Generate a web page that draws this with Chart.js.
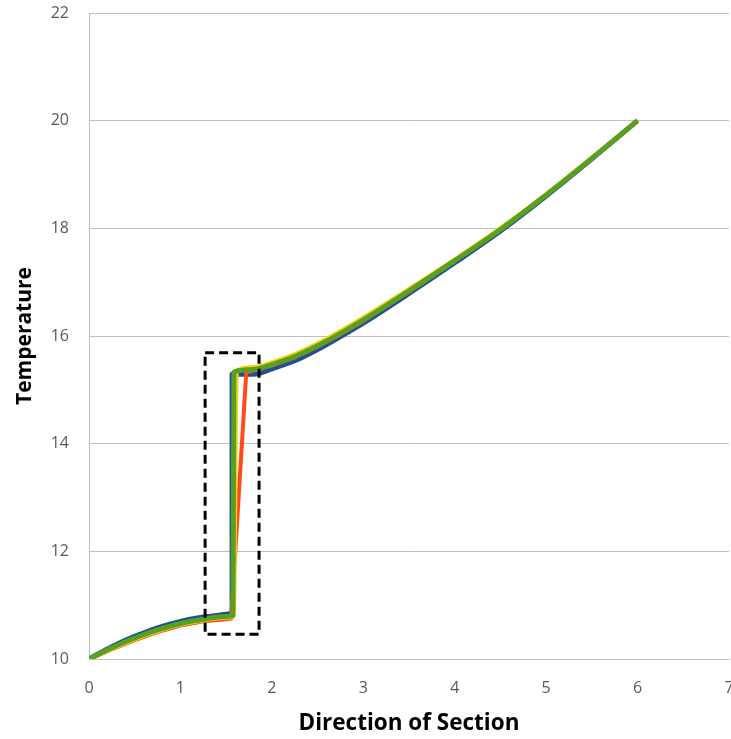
<!DOCTYPE html>
<html>
<head>
<meta charset="utf-8">
<script src="https://cdn.jsdelivr.net/npm/chart.js@4/dist/chart.umd.min.js"></script>
<style>
  html, body { margin: 0; padding: 0; background: #fff; overflow: hidden; }
  #wrap { width: 733px; height: 739px; }
</style>
</head>
<body>
<div id="wrap"><canvas id="c"></canvas></div>
<script>
// Position along the section and the temperature for each run
const xBlue   = [0, 0.25, 0.5, 0.75, 1.0, 1.25, 1.5, 1.565, 1.565, 1.8, 2.0, 2.25, 2.5, 2.75, 3.0, 3.5, 4.0, 4.5, 5.0, 5.5, 6.0];
const tBlue   = [10, 10.23, 10.42, 10.58, 10.70, 10.78, 10.83, 10.85, 15.29, 15.29, 15.39, 15.54, 15.75, 15.99, 16.24, 16.79, 17.36, 17.95, 18.60, 19.29, 20.0];

const xRed    = [0, 0.25, 0.5, 0.75, 1.0, 1.25, 1.5, 1.555, 1.72, 2.0, 2.25, 2.5, 2.75, 3.0, 3.5, 4.0, 4.5, 5.0, 5.5, 6.0];
const tRed    = [10, 10.18, 10.35, 10.50, 10.62, 10.70, 10.74, 10.75, 15.32, 15.45, 15.60, 15.80, 16.03, 16.28, 16.82, 17.39, 17.97, 18.61, 19.30, 20.0];

const xYellow = [0, 0.25, 0.5, 0.75, 1.0, 1.25, 1.5, 1.58, 1.615, 1.8, 2.0, 2.25, 2.5, 2.75, 3.0, 3.5, 4.0, 4.5, 5.0, 5.5, 6.0];
const tYellow = [10, 10.19, 10.37, 10.52, 10.64, 10.72, 10.77, 10.79, 15.35, 15.42, 15.51, 15.66, 15.86, 16.09, 16.34, 16.87, 17.42, 18.00, 18.63, 19.31, 20.0];

const xGreen  = [0, 0.25, 0.5, 0.75, 1.0, 1.25, 1.5, 1.575, 1.585, 1.8, 2.0, 2.25, 2.5, 2.75, 3.0, 3.5, 4.0, 4.5, 5.0, 5.5, 6.0];
const tGreen  = [10, 10.21, 10.39, 10.54, 10.66, 10.74, 10.79, 10.81, 15.33, 15.38, 15.47, 15.62, 15.82, 16.05, 16.30, 16.84, 17.40, 17.98, 18.62, 19.30, 20.0];

// Axis tick values
const xTicks = [0, 1, 2, 3, 4, 5, 6, 7];
const yTicks = [10, 12, 14, 16, 18, 20, 22];

// Highlighted region around the jump: [xMin, xMax, tMin, tMax]
const boxBounds = [1.27, 1.86, 10.46, 15.69];

function pts(xs, ys) { return xs.map((x, i) => ({ x: x, y: ys[i] })); }

// drop the automatic label overhang so the plot edges sit where the layout puts them
function noOverhang(s) {
  s.paddingTop = 0; s.paddingBottom = 0; s.paddingLeft = 0; s.paddingRight = 0;
}

const dashedBox = {
  id: 'dashedBox',
  afterDatasetsDraw(chart) {
    const { ctx, scales } = chart;
    const x0 = scales.x.getPixelForValue(boxBounds[0]);
    const x1 = scales.x.getPixelForValue(boxBounds[1]);
    const y0 = scales.y.getPixelForValue(boxBounds[3]);
    const y1 = scales.y.getPixelForValue(boxBounds[2]);
    ctx.save();
    ctx.strokeStyle = '#000';
    ctx.lineWidth = 3;
    ctx.setLineDash([9, 5]);
    ctx.strokeRect(x0, y0, x1 - x0, y1 - y0);
    ctx.restore();
  }
};

const line = (label, xs, ys, color, width, order, mode) => ({
  label, data: pts(xs, ys), borderColor: color, backgroundColor: color,
  borderWidth: width, pointRadius: 0, showLine: true, fill: false,
  cubicInterpolationMode: mode, tension: 0, borderJoinStyle: 'round', order
});

new Chart(document.getElementById('c'), {
  type: 'scatter',
  data: {
    datasets: [
      line('Run D', xGreen, tGreen, '#58a01f', 5, 1, 'monotone'),
      line('Run C', xYellow, tYellow, '#ffd21a', 4.5, 2, 'monotone'),
      line('Run B', xRed, tRed, '#ff4b1c', 4, 3, 'default'),
      line('Run A', xBlue, tBlue, '#1f4f9c', 5, 4, 'monotone')
    ]
  },
  options: {
    responsive: true,
    maintainAspectRatio: false,
    animation: false,
    layout: { padding: { top: 13, right: 4, left: 0, bottom: 0 } },
    plugins: { legend: { display: false }, tooltip: { enabled: false } },
    scales: {
      x: {
        type: 'linear', min: 0, max: 7,
        afterBuildTicks(s) { s.ticks = xTicks.map(v => ({ value: v })); },
        afterFit(s) { s.height = 80; noOverhang(s); },
        grid: { display: false, drawTicks: false },
        border: { display: true, color: '#bfbfbf', width: 1 },
        ticks: { padding: 20, color: '#595959', font: { family: 'Open Sans', size: 16 }, maxRotation: 0 },
        title: { display: true, text: 'Direction of Section', color: '#000',
                 font: { family: 'Open Sans', size: 22.5, weight: 'bold' }, padding: { top: 0, bottom: 2 } }
      },
      y: {
        type: 'linear', min: 10, max: 22,
        afterBuildTicks(s) { s.ticks = yTicks.map(v => ({ value: v })); },
        afterFit(s) { s.width = 89; noOverhang(s); },
        grid: { color: '#bfbfbf', lineWidth: 1, drawTicks: false },
        border: { display: true, color: '#bfbfbf', width: 1 },
        ticks: { padding: 20, color: '#595959', font: { family: 'Open Sans', size: 16 } },
        title: { display: true, text: 'Temperature', color: '#000',
                 font: { family: 'Open Sans', size: 21, weight: 'bold' }, padding: { top: 12, bottom: 0 } }
      }
    }
  },
  plugins: [dashedBox]
});
</script>
</body>
</html>
